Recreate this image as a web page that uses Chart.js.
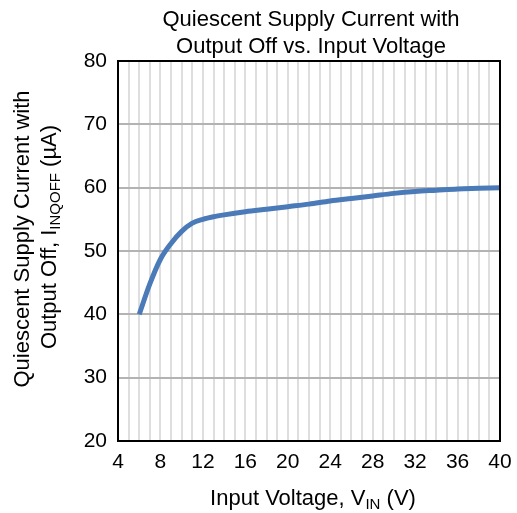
<!DOCTYPE html>
<html>
<head>
<meta charset="utf-8">
<script src="https://cdn.jsdelivr.net/npm/chart.js@4.4.1/dist/chart.umd.min.js"></script>
<style>
    html, body { margin: 0; padding: 0; background: #fff; }
</style>
</head>
<body>
<canvas id="myChart" width="517" height="513"></canvas>
<script>
// datos
const voltage = [6, 7, 8, 9, 10, 11, 12, 13, 14, 16, 18, 20, 22, 24, 26, 28, 30, 32, 34, 36, 38, 40];
const current = [40, 44.8, 48.7, 51.2, 53.1, 54.4, 55.0, 55.4, 55.7, 56.2, 56.6, 57.0, 57.4, 57.9, 58.3, 58.7, 59.1, 59.4, 59.6, 59.8, 59.9, 60.0];
const xLabels = [4, 8, 12, 16, 20, 24, 28, 32, 36, 40];
const yLabels = [20, 30, 40, 50, 60, 70, 80];

const FONT = '"Liberation Sans", Arial, sans-serif';

// texto con subindices: [texto, esSub]
function drawRuns(ctx, runs, cx, baseline) {
    const big = '22px ' + FONT, small = '15px ' + FONT;
    let total = 0;
    runs.forEach(function(r) {
        ctx.font = r[1] ? small : big;
        total += ctx.measureText(r[0]).width;
    });
    let x = cx - total / 2;
    runs.forEach(function(r) {
        ctx.font = r[1] ? small : big;
        ctx.fillText(r[0], x, baseline + (r[1] ? 4 : 0));
        x += ctx.measureText(r[0]).width;
    });
}

const textos = {
    id: 'textos',
    afterDraw: function(chart) {
        const ctx = chart.ctx;
        const a = chart.chartArea;
        ctx.save();
        // marco
        ctx.strokeStyle = '#000';
        ctx.lineWidth = 2;
        ctx.strokeRect(a.left, a.top, a.right - a.left, a.bottom - a.top);

        ctx.fillStyle = '#000';
        ctx.textBaseline = 'alphabetic';
        // titulo
        drawRuns(ctx, [['Quiescent Supply Current with', false]], 311, 26);
        drawRuns(ctx, [['Output Off vs. Input Voltage', false]], 311, 53);
        // titulo eje x
        drawRuns(ctx, [['Input Voltage, V', false], ['IN', true], [' (V)', false]], 313, 505);
        // titulo eje y
        ctx.rotate(-Math.PI / 2);
        drawRuns(ctx, [['Quiescent Supply Current with', false]], -239, 29);
        drawRuns(ctx, [['Output Off, I', false], ['INQOFF', true], [' (\u00B5A)', false]], -237, 56);
        ctx.restore();
    }
};

new Chart(document.getElementById('myChart'), {
    type: 'line',
    data: {
        datasets: [{
            data: voltage.map(function(v, i) { return { x: v, y: current[i] }; }),
            borderColor: '#4a7ab8',
            borderWidth: 5,
            pointRadius: 0,
            cubicInterpolationMode: 'monotone',
            fill: false
        }]
    },
    options: {
        responsive: false,
        animation: false,
        devicePixelRatio: 1,
        layout: { padding: { top: 61, right: 17, left: 0, bottom: 0 } },
        plugins: {
            legend: { display: false },
            tooltip: { enabled: false }
        },
        scales: {
            x: {
                type: 'linear',
                min: 4,
                max: 40,
                afterFit: function(scale) {
                    scale.height = 72;
                    scale.paddingLeft = 0;
                    scale.paddingRight = 0;
                },
                border: { display: false },
                grid: { color: '#dedede', lineWidth: 2, drawTicks: false },
                ticks: {
                    stepSize: 1,
                    maxTicksLimit: 100,
                    autoSkip: false,
                    maxRotation: 0,
                    padding: 9,
                    color: '#000',
                    font: { family: FONT, size: 21 },
                    callback: function(v) { return xLabels.indexOf(v) >= 0 ? String(v) : ''; }
                }
            },
            y: {
                min: 20,
                max: 80,
                afterFit: function(scale) {
                    scale.width = 118;
                    scale.paddingTop = 0;
                    scale.paddingBottom = 0;
                },
                border: { display: false },
                grid: { color: '#b3b3b3', lineWidth: 2, drawTicks: false },
                ticks: {
                    stepSize: 10,
                    padding: 11,
                    color: '#000',
                    font: { family: FONT, size: 21 },
                    callback: function(v) { return yLabels.indexOf(v) >= 0 ? String(v) : ''; }
                }
            }
        }
    },
    plugins: [textos]
});
</script>
</body>
</html>
